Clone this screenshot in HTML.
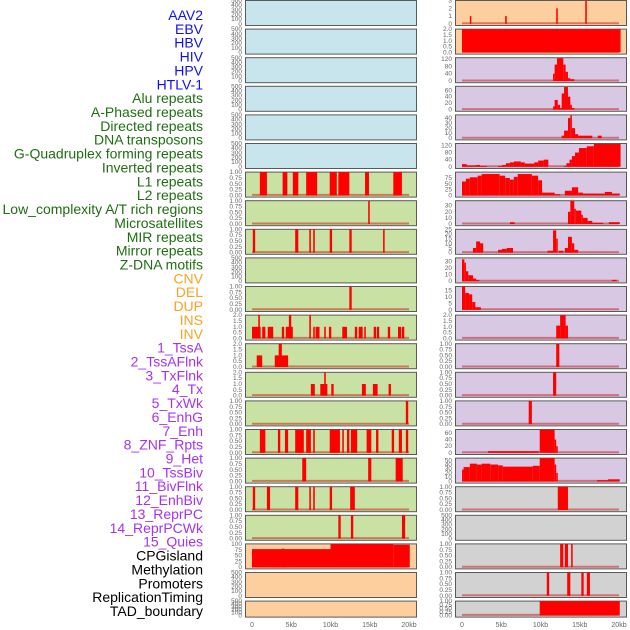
<!DOCTYPE html>
<html><head><meta charset="utf-8"><style>
html,body{margin:0;padding:0;background:#fff;width:630px;height:630px;overflow:hidden}
svg{display:block;font-family:"Liberation Sans",sans-serif}
</style></head><body>
<svg id="chart" width="630" height="630" xmlns="http://www.w3.org/2000/svg"></svg>
<script>
const trackLabels=["AAV2","EBV","HBV","HIV","HPV","HTLV-1","Alu repeats","A-Phased repeats","Directed repeats","DNA transposons","G-Quadruplex forming repeats","Inverted repeats","L1 repeats","L2 repeats","Low_complexity A/T rich regions","Microsatellites","MIR repeats","Mirror repeats","Z-DNA motifs","CNV","DEL","DUP","INS","INV","1_TssA","2_TssAFlnk","3_TxFlnk","4_Tx","5_TxWk","6_EnhG","7_Enh","8_ZNF_Rpts","9_Het","10_TssBiv","11_BivFlnk","12_EnhBiv","13_ReprPC","14_ReprPCWk","15_Quies","CPGisland","Methylation","Promoters","ReplicationTiming","TAD_boundary"];
const labelGroups=[6,13,5,15,5];
const xTickKb=[0,5,10,15,20];
const xTickLabels=["0","5kb","10kb","15kb","20kb"];
const leftMax=[500,500,500,500,500,500,1,1,1,500,1,2,2,2,1,1,1,1,1,100,500,500];
const rightMax=[3,2,127,72,46,130,100,38,25,35,18,2,1,1,1,70,55,1,500,1,1,1];
const rightTicks=[[0,1,2,3],[0,0.5,1,1.5,2],[0,40,80,120],[0,20,40,60],[0,10,20,30,40],[0,40,80,120],[0,25,50,75],[0,10,20,30],[0,5,10,15,20,25],[0,10,20,30],[0,5,10,15],[0,0.5,1,1.5,2],null,null,null,[0,20,40,60],[0,10,20,30,40,50],null,null,null,null,null];
const leftBars=[[],[],[],[],[],[],
[[1.0,1.9,1],[3.9,4.5,1],[5.2,5.9,1],[6.9,8.3,1],[9.9,10.8,1],[11.0,12.4,1],[14.4,14.9,1],[18.0,19.1,1]],
[[14.8,15.0,1]],
[[0.1,0.4,1],[5.5,5.9,1],[7.3,7.5,1],[7.8,8.0,1],[9.9,10.2,1],[12.4,12.7,1],[16.7,16.9,1]],
[],
[[12.4,12.7,1]],
[[0,1.1,1],[0.8,1.0,2],[1.3,1.7,1],[2.0,2.7,1],[3.8,4.1,1],[4.3,5.2,1],[4.7,5.0,2],[7.3,7.5,2],[7.8,8.0,1],[8.1,8.6,1],[9.2,9.4,1],[9.8,10.1,1],[11.5,12.1,1],[13.1,13.4,1],[13.6,14.1,1],[14.3,14.5,1],[15.5,15.8,1],[15.9,16.2,1],[17.3,17.6,1],[18.6,19.0,1],[19.1,19.4,1]],
[[0.6,1.3,1],[2.9,4.6,1],[3.4,3.8,2]],
[[7.5,8.0,1],[8.7,9.6,1],[9.2,9.4,2],[10.1,10.4,1],[14.0,14.5,1],[15.4,16.0,1],[17.4,17.7,1]],
[[19.6,19.9,1]],
[[1.0,1.7,1],[3.3,3.6,1],[4.2,4.6,1],[5.5,6.6,1],[6.9,7.5,1],[7.8,8.0,1],[9.9,11.2,1],[11.5,11.7,1],[12.1,12.4,1],[12.6,13.4,1],[14.6,15.2,1],[15.8,16.1,1],[17.8,18.1,1],[18.7,19.1,1],[19.6,19.9,1]],
[[6.4,6.9,1],[14.8,15.2,1],[18.3,19.2,1]],
[[0.1,0.4,1],[1.9,2.3,1],[5.5,5.9,1],[7.3,7.5,1],[7.8,8.0,1],[9.9,10.2,1],[12.5,13.1,1]],
[[11.0,11.3,1],[12.6,12.9,1],[19.1,19.5,1]],
[[0,10,78],[3.8,4.1,80],[10,18,100],[18,20.1,97]],
[],[]];
const rightBars=[
[[1.0,1.1,1],[5.5,5.7,1],[12.0,12.2,2],[15.7,15.9,3]],
[[0,20.2,2]],
[[11.6,11.8,40],[11.8,12.1,90],[12.1,12.9,125],[12.9,13.2,90],[13.2,13.5,50],[13.5,13.8,15],[13.8,14.3,10]],
[[11.6,11.8,10],[11.8,12.2,30],[12.2,12.5,15],[12.5,12.7,5],[12.7,13.0,50],[13.0,13.5,70],[13.5,13.8,40],[13.8,14.0,15],[14.0,14.3,5]],
[[12.7,13.0,5],[13.0,13.5,15],[13.5,13.8,40],[13.8,14.0,45],[14.0,14.4,20],[14.4,14.8,8],[14.8,16.6,5],[17.3,17.8,5]],
[[0,0.6,15],[0.6,1.8,8],[1.8,2.3,10],[2.3,3.2,5],[4.6,5.1,5],[5.1,5.6,10],[5.6,6.1,20],[6.1,6.6,25],[6.6,7.5,30],[7.5,8.0,25],[8.0,9.2,18],[9.2,9.7,25],[9.7,10.4,35],[10.4,11.0,40],[13.0,13.3,5],[13.3,13.7,20],[13.7,14.0,40],[14.0,14.4,60],[14.4,14.9,80],[14.9,15.9,105],[15.9,16.8,115],[16.8,20.2,128]],
[[0,0.5,60],[0.5,1.0,72],[1.0,2.0,78],[2.0,2.5,85],[2.5,4.8,92],[4.8,5.5,85],[5.5,6.1,75],[6.1,6.6,68],[6.6,7.1,80],[7.1,8.9,92],[8.9,9.7,85],[9.7,10.2,65],[10.2,11.8,12],[11.8,12.5,5],[13.1,14.0,20],[14.0,14.8,35],[14.8,15.4,12],[15.4,18.2,8],[18.2,19.1,15],[19.1,20.1,8]],
[[13.5,13.8,20],[13.8,14.3,38],[14.3,14.5,25],[14.5,15.2,22],[15.2,15.4,15],[15.4,16.0,10],[16.0,16.6,5],[16.6,18.0,2],[6.1,6.7,3],[18.7,20.1,3]],
[[1.4,1.8,5],[1.8,2.3,12],[2.3,2.7,10],[4.6,5.1,3],[5.1,5.7,4],[5.7,6.5,5],[10.9,11.6,2],[11.6,12.0,24],[12.0,12.2,15],[12.3,12.9,2],[13.1,13.5,5],[13.5,14.0,17],[14.0,14.3,10],[14.3,14.8,3]],
[[0,0.3,33],[0.3,0.5,28],[0.5,0.8,15],[0.8,1.4,9],[1.4,1.8,4],[1.8,2.2,2],[19.1,19.7,2]],
[[0,0.4,18],[0.4,0.9,13],[0.9,1.3,12],[1.3,1.7,6],[1.7,2.4,2]],
[[12.0,12.5,1.1],[12.5,13.2,2],[13.2,13.5,1.1]],
[[12.0,12.4,1]],
[[11.6,12.0,1]],
[[8.5,8.9,1]],
[[3.3,9.8,5],[9.9,11.8,70],[11.8,12.0,40],[12.0,12.2,20]],
[[0,0.2,28],[0.2,1.0,34],[1.0,1.9,42],[1.9,2.5,40],[2.5,3.6,42],[3.6,4.6,40],[4.6,5.2,38],[5.2,9.0,35],[9.0,9.9,37],[9.9,11.8,55],[11.8,12.0,40],[12.0,12.2,20],[17.2,18.6,3],[18.6,20.1,5]],
[[12.2,13.5,1]],
[],
[[12.5,12.9,1],[13.1,13.5,1],[13.9,14.1,1]],
[[10.8,11.1,1],[13.4,13.8,1],[15.2,15.5,1],[15.9,16.3,1]],
[[9.9,20.1,1]]];

const NS="http://www.w3.org/2000/svg";
const svg=document.getElementById('chart');
function mk(tag,attrs,parent){const e=document.createElementNS(NS,tag);for(const k in attrs)e.setAttribute(k,attrs[k]);(parent||svg).appendChild(e);return e;}
const groupColors=["#1010ee","#1f6e12","#ffa020","#a433f0","#000000"];
// labels
let idx=0;
labelGroups.forEach((n,g)=>{for(let i=0;i<n;i++){const t=mk('text',{x:203,y:20+idx*13.86,'text-anchor':'end','font-size':'14',fill:groupColors[g]});


t.textContent=trackLabels[idx];idx++;}});
const leftBg=i=>i<6?"#c8e4ec":(i<19?"#c9e1a3":"#fecf9e");
const rightBg=i=>i<2?"#fecf9e":(i<17?"#d8c8e3":"#d2d2d2");
function rowTop(i){return i*28.6;}
function rowH(i){return i===21?16:25;}
function fmt(v,max){if(max===1)return v.toFixed(2);if(max===2)return v.toFixed(1);return String(v);}
function defTicks(max){if(max===500)return[0,100,200,300,400,500];if(max===1)return[0,0.25,0.5,0.75,1];if(max===2)return[0,0.5,1,1.5,2];if(max===100)return[0,25,50,75,100];return[0];}
function panel(i,px,max,ticks,bars,bg,side){
  const top=rowTop(i),h=rowH(i),w=171;
  const x0=px+7,sc=157/20;
  const yb=top+h-1.2,yt=top+0.6;
  const ys=v=>yb-(v/max)*(yb-yt);
  const xs=kb=>x0+kb*sc;
  const r=mk('rect',{x:px+0.5,y:top+0.5,width:w,height:h,fill:bg,stroke:'#5a5a5a','stroke-width':1});
  
  
  ticks.forEach(tv=>{const t=mk('text',{x:px-3,y:ys(tv)+2,'text-anchor':'end','font-size':'6.5',fill:'#666'});
    
    
    t.textContent=fmt(tv,max);});
  if(bars.length){
    const bl=mk('line',{x1:xs(0),x2:xs(20),y1:yb-0.5,y2:yb-0.5,stroke:'rgba(200,0,0,0.45)','stroke-width':2});
    
    
  }
  bars.forEach(b=>{const v=Math.min(b[2],max);const y=ys(v);
    const e=mk('rect',{x:xs(b[0]),y:y,width:Math.max(1.5,xs(b[1])-xs(b[0])),height:yb-y,fill:'#ff0000'});
    
    });
}
for(let i=0;i<22;i++){
  panel(i,245,leftMax[i],defTicks(leftMax[i]),leftBars[i],leftBg(i),'left');
  panel(i,455,rightMax[i],rightTicks[i]||defTicks(rightMax[i]),rightBars[i],rightBg(i),'right');
}
[252,462].forEach(x0=>{xTickKb.forEach((kb,j)=>{const t=mk('text',{x:x0+kb*157/20,y:627,'text-anchor':'middle','font-size':'7',fill:'#666'});
  
  
  t.textContent=xTickLabels[j];});});
</script>
</body></html>
